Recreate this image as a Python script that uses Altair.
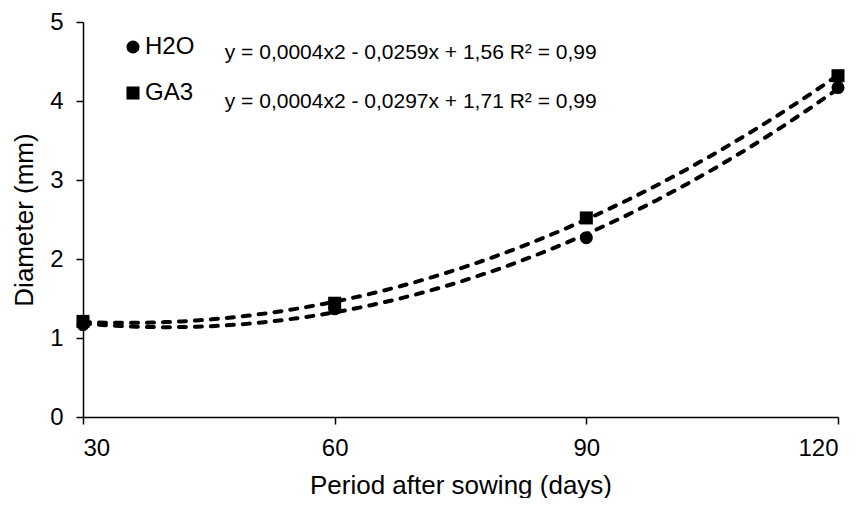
import altair as alt
import pandas as pd

days = [30, 60, 90, 120]
h2o = [1.17, 1.37, 2.27, 4.17]
ga3 = [1.21, 1.44, 2.52, 4.32]
series_names = ["H2O", "GA3"]
equations = [
    "y = 0,0004x2 - 0,0259x + 1,56 R² = 0,99",
    "y = 0,0004x2 - 0,0297x + 1,71 R² = 0,99",
]
eq_x = [46.9, 46.9]
eq_y = [4.61, 3.99]
yticks = [0, 1, 2, 3, 4, 5]

rows = []
for name, vals in zip(series_names, [h2o, ga3]):
    for d, v in zip(days, vals):
        rows.append({"days": d, "diam": v, "series": name})
df = pd.DataFrame(rows)
eq_df = pd.DataFrame({"x": eq_x, "y": eq_y, "text": equations})

FONT = "Liberation Sans"

axis_style = dict(
    grid=False,
    domainColor="black",
    domainWidth=1.5,
    tickColor="black",
    tickWidth=1.5,
    tickSize=7,
    labelFont=FONT,
    labelFontSize=24,
    labelColor="black",
    titleFont=FONT,
    titleFontSize=26,
    titleColor="black",
    titleFontWeight="normal",
    format="d",
)

xscale = alt.Scale(domain=[30, 120], nice=False)
yscale = alt.Scale(domain=[0, 5], nice=False)

base = alt.Chart(df)

lines = base.transform_regression(
    "days", "diam", method="poly", order=2, groupby=["series"], extent=[30, 120]
).mark_line(
    strokeDash=[7, 9], strokeWidth=4, strokeCap="round", color="black"
).encode(
    x=alt.X("days:Q", scale=xscale),
    y=alt.Y("diam:Q", scale=yscale),
    detail="series:N",
)

points = base.mark_point(filled=True, color="black", opacity=1).encode(
    x=alt.X(
        "days:Q",
        scale=xscale,
        title="Period after sowing (days)",
        axis=alt.Axis(values=days, labelPadding=12, titlePadding=12, **axis_style),
    ),
    y=alt.Y(
        "diam:Q",
        scale=yscale,
        title="Diameter (mm)",
        axis=alt.Axis(values=yticks, labelPadding=13, titlePadding=12, **axis_style),
    ),
    shape=alt.Shape(
        "series:N",
        scale=alt.Scale(domain=series_names, range=["circle", "square"]),
        legend=alt.Legend(
            title=None,
            orient="none",
            legendX=38,
            legendY=13,
            padding=0,
            labelFontSize=24,
            labelFont=FONT,
            labelColor="black",
            symbolSize=170,
            symbolFillColor="black",
            symbolStrokeColor="black",
            rowPadding=22,
            labelOffset=0,
        ),
    ),
    size=alt.value(170),
)

eqs = alt.Chart(eq_df).mark_text(
    align="left", baseline="middle", fontSize=21, font=FONT, color="black"
).encode(x="x:Q", y="y:Q", text="text:N")

chart = alt.layer(lines, points, eqs).properties(
    width=755,
    height=395,
    padding={"left": 3, "top": 2, "right": 0, "bottom": 0},
).configure_view(stroke=None)

chart.save("out.html", embed_options={"renderer": "svg", "actions": False})
